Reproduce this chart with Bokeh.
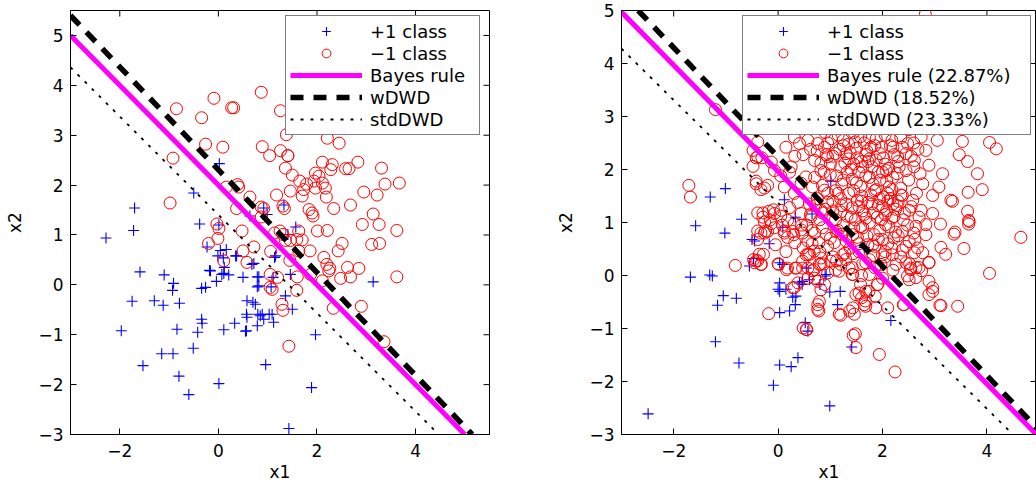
import math
from bokeh.plotting import figure
from bokeh.models import (ColumnDataSource, Legend, LegendItem,
                          FixedTicker, Range1d)
from bokeh.layouts import row
from bokeh.embed import file_html
from bokeh.resources import INLINE

FONT = "DejaVu Sans"

# ---------------- data: left panel ----------------
left_pos_x = [-2.28, -1.70, -1.72, -1.59, -1.97, -1.75, -1.53, -1.30, -1.12, -1.10,
              -0.91, -0.93, -0.79, -0.84, -1.15, -0.92, -0.80, -0.60, -0.51, -0.42,
              -0.34, -0.33, -0.34, -0.26, -0.38, -0.50, 0.01, 0.02, -0.23, -0.18,
              -0.04, -0.01, 0.04, 0.16, 0.12, 0.11, 0.21, 0.01, 0.11, 0.33,
              0.37, 0.50, 0.58, 0.57, 0.57, 0.58, 0.80, 0.75, 0.79, 0.79,
              0.79, 0.72, 0.96, 0.92, 0.89, 0.92, 1.03, 1.09, 1.12, 1.07,
              1.14, 1.33, 1.36, 1.50, 1.46, 1.41, 1.57, 1.43, 1.89, 1.97,
              3.14, 0.64, 0.99, -0.16, 0.07, 0.10, 0.35, 0.68, 1.16, 0.55,
              0.85, 0.70, 1.11, 0.82, 0.82]
left_pos_y = [0.94, 1.54, 1.09, 0.26, -0.92, -0.33, -1.62, -0.32, -0.41, 0.20,
              0.03, -0.11, -0.37, -0.89, -1.38, -1.38, -1.83, -2.20, -1.27, -0.95,
              -0.69, -0.77, -0.07, -0.05, 1.22, 1.84, -1.98, 2.43, 0.76, 0.29,
              0.07, 0.58, 0.69, 0.71, 0.35, 0.23, 0.20, 1.20, -0.90, -0.77,
              0.58, 0.15, -0.32, -0.59, -0.92, -0.65, -0.59, -0.39, -0.82, 0.16,
              -0.04, 0.43, -1.60, 1.54, -0.59, -0.69, -0.59, -0.59, -0.75, -0.04,
              0.55, 1.60, -0.22, -0.49, 0.21, 1.01, 1.16, -2.88, -2.06, -1.00,
              0.06, 1.38, 1.41, 0.28, 0.21, 0.54, 0.58, 0.41, 0.58, -0.93,
              -0.62, -0.35, 0.15, 0.16, -0.02]

left_neg_x = [-0.09, -0.85, -0.34, 0.27, 0.31, 0.87, 1.26, 1.38, -0.26, 0.09,
              -0.92, -0.98, 0.89, 1.04, 1.26, 1.41, 1.36, 1.50, 2.21, 2.45,
              2.11, 2.31, 2.28, 2.58, 2.65, 2.83, 3.31, 3.38, 3.67, 2.95,
              3.22, 1.97, 2.04, 1.94, 1.79, 1.65, 1.73, 1.70, 1.97, 2.17,
              2.11, 2.19, 1.46, 1.18, 0.39, 0.41, 0.16, 0.64, 0.37, 0.87,
              0.92, 0.87, 1.31, 1.34, 1.84, 1.90, 1.92, 2.34, 2.68, 3.14,
              2.92, 3.26, 3.62, 3.11, 3.27, 2.51, 2.43, 2.01, 2.21, 1.86,
              1.70, 1.63, 1.59, 1.46, 1.31, 1.36, 1.25, 1.14, 1.63, 1.45,
              1.06, 1.05, 1.20, 1.05, 1.09, 1.59, 1.60, 1.87, 2.11, 2.14,
              2.20, 2.26, 2.24, 2.48, 2.62, 2.68, 2.85, 3.62, 2.90, 2.33,
              1.29, 1.31, 1.43, 3.36, 0.48, 0.72, 0.50, 0.58, 0.11, -0.01,
              -0.03, 0.01, -0.20, 1.41]
left_neg_y = [3.74, 3.53, 3.35, 3.55, 3.55, 3.86, 3.49, 3.01, 2.82, 2.76,
              2.54, 1.64, 2.77, 2.59, 2.69, 2.59, 2.34, 2.20, 2.94, 2.84,
              2.46, 2.41, 2.31, 2.33, 2.33, 2.46, 2.34, 2.02, 2.04, 1.86,
              1.80, 2.24, 2.18, 2.08, 2.02, 2.08, 1.91, 1.78, 1.94, 1.94,
              2.04, 1.76, 1.88, 1.80, 2.01, 1.96, 1.96, 1.76, 1.53, 1.56,
              1.53, 1.36, 1.58, 1.53, 1.51, 1.44, 1.38, 1.53, 1.60, 1.42,
              1.21, 1.21, 1.09, 0.81, 0.83, 0.83, 0.68, 1.08, 1.09, 0.68,
              0.90, 1.08, 0.91, 0.89, 1.01, 0.89, 1.08, 1.04, 0.68, 0.49,
              0.67, 0.21, 0.15, -0.05, -0.09, -0.11, 0.16, 0.21, 0.08, 0.55,
              0.41, 0.33, 0.28, 0.13, 0.35, 0.16, 0.33, 0.16, -0.43, -0.47,
              -0.39, -0.51, -1.23, -1.14, 1.08, 0.76, 0.68, 0.45, 0.48, 0.93,
              1.22, 1.13, 0.83, 2.59]

left_bayes_x = [-3.0, 5.0]
left_bayes_y = [5.0, -3.0]
left_wdwd_x = [-3.0, 5.15]
left_wdwd_y = [5.40, -3.0]
left_std_x = [-3.0, 4.47]
left_std_y = [4.36, -3.0]

# ---------------- data: right panel ----------------
right_pos_x = [-2.49, -1.68, -1.31, -1.26, -1.30, -1.01, -1.58, -1.02, -0.70, -1.05,
               -1.16, -0.80, -1.20, -0.75, -0.55, -0.47, -0.50, -0.45, -0.17, 0.12,
               0.09, 0.03, 0.09, 0.03, 0.00, 0.03, 0.15, 0.03, 0.22, 0.28,
               0.34, 0.33, 0.41, 0.46, 0.54, 0.60, 0.52, 0.57, 0.38, 0.03,
               0.25, -0.09, 0.99, 1.01, 0.65, 0.92, 0.99, 1.19, 1.14, 0.80,
               1.41, 1.65, 2.16, 0.33, 0.47, 0.90]
right_pos_y = [-2.61, -0.03, 0.01, -0.01, 1.48, 1.64, 0.94, 0.80, 1.06, -0.38,
               -0.56, -0.43, -1.25, -1.65, 0.18, 0.32, 0.68, 0.65, 0.60, 1.43,
               0.91, 0.24, 0.21, -0.14, -0.26, -0.30, -0.26, -0.70, -0.67, -0.41,
               -0.39, -0.55, -0.14, -0.17, 0.14, -0.08, -0.89, -1.05, -1.55, -1.69,
               -1.72, -2.07, -2.46, 1.78, 1.16, 0.02, -0.31, -0.30, -0.55, -0.17,
               -1.35, 0.53, -0.85, 1.10, -0.11, -0.01]

right_neg_x = [
    2.82, -1.20, -1.71, -1.68, -0.82, -0.18, 4.65, 4.05, 4.18, 4.05,
    3.82, 3.91, 3.64, 3.53, 3.63, 3.47, 3.34, 3.63, 3.66, 3.39,
    3.56, 3.21, 3.12, 3.44, 3.10, 2.89, 2.96, 2.89, 2.75, 2.64,
    2.54, 2.40, 2.10, 1.94, 2.24, 1.48, 1.44, 1.49, 0.54, 0.48,
    0.78, 0.76, 1.17, 1.46, 1.65, 1.68, 1.49, 1.86, 1.91, 1.75,
    1.43, 1.36, 1.20, 1.01, 0.82, 0.76, 0.89, 0.69, 0.47, 0.33,
    0.28, 0.18, 0.01, -0.33, -0.36, -0.42, -0.47, -0.28, -0.39, -0.33,
    -0.24, -0.42, -0.33, -0.26, -0.48, -0.42, -0.31, -0.39, -0.29, -0.18,
    -0.09, 0.08, 0.12, 0.30, 0.47, 0.48, 0.57, 0.47,
    3.15, 3.08, 3.31, 3.65, 2.83, 2.74, 3.05, 2.61, 2.48, 2.45,
    2.89, 2.77, 2.96, 2.74, 2.96, 2.29, 2.20, 2.07, 2.13, 2.38,
    2.51, 2.22,
    3.37, 3.65, 3.11, 2.83, 2.89, 2.70, 2.54, 2.51, 2.89, 2.96,
    3.12, 2.41, 1.20, 1.43, 1.37, 1.68, 1.87, 1.55, 1.60, 1.67,
    1.74, 1.90, 1.58, 1.42, 1.17, 1.24, 1.43, 1.68, 1.97, 2.00,
    2.19, 2.26, 2.45, 2.48, 2.64, 2.61, 2.67, 2.77, 2.51, 2.22,
    2.00, 1.81, 1.84, 2.38, 2.64, 2.83, 2.06, 1.62, 1.43, 1.11,
    -0.39, -0.48, -0.39, -0.13, -0.07, -0.42, -0.20, 0.12, 0.31, 0.44,
    0.53, 0.25, 0.41, 0.31, 0.57, 0.76, 0.89, 0.95, 0.70, 0.82,
    0.66, 0.89, 0.82, 0.63, 0.44, -0.26, -0.13, 0.18, 0.31, -0.29,
    -0.07, 0.06,
    -0.39, -0.26, -0.20, -0.07, 0.12, 0.28, 0.44, 0.57, 0.54, 0.69,
    0.82, 0.79, -0.39, -0.45, -0.32, 0.00, 0.16, 0.35, 0.57, 0.38,
    0.31, 0.82, 0.79, 0.76, 0.55, 0.57, 0.66,
    1.00, 1.30, 1.60, 1.90, 2.20, 2.50, 0.90, 1.15, 1.45, 1.75,
    2.05, 2.35, 2.60,
    0.75, 0.95, 1.10, 1.25, 1.35, 1.50, 1.60, 1.70, 1.80, 1.95,
    2.05, 2.15, 2.30, 2.45, 2.60, 1.20, 1.40, 1.55, 1.00, 1.65,
    1.85, 2.00, 1.30, 1.45, 1.75,
    0.70, 0.85, 1.00, 1.10, 1.25, 1.35, 1.50, 1.60, 1.75, 1.85,
    1.95, 2.10, 2.20, 2.35, 2.50, 2.65, 2.10, 2.15, 2.20, 1.45,
    0.95, 1.20,
    0.60, 0.75, 0.90, 1.05, 1.20, 1.30, 1.40, 1.55, 1.65, 1.80,
    1.90, 2.00, 2.05, 2.25, 2.40, 2.55, 2.70, 1.75, 1.95, 1.60,
    2.30, 1.10, 0.80,
    0.55, 0.70, 0.85, 1.00, 1.15, 1.30, 1.45, 1.55, 1.70, 1.85,
    1.95, 2.10, 2.30, 2.45, 2.60, 1.25, 0.95, 0.65,
    0.60, 0.80, 1.05, 1.30, 1.55, 1.75, 1.85, 2.05, 2.20, 2.35,
    1.10, 0.70, 0.95, 1.60, 2.00]
right_neg_y = [
    4.93, 3.13, 1.70, 1.48, 0.19, -0.72, 0.72, 0.04, 2.39, 2.51,
    1.92, 1.62, 1.57, 2.53, 2.15, 2.28, 1.40, 1.21, 1.02, 0.82,
    0.51, 0.40, 0.53, -0.58, -0.56, -0.36, -0.23, 0.25, 0.09, -0.04,
    0.14, -0.55, -0.61, -1.49, -1.82, -1.10, -1.13, -1.36, -1.02, -0.99,
    -0.67, -0.55, -0.73, -0.73, -0.55, -0.30, -0.36, -0.39, -0.17, 0.02,
    0.02, 0.14, 0.21, 0.27, 0.21, -0.11, -0.17, 0.11, 0.14, 0.14,
    -0.23, 0.14, 0.21, 0.21, 0.40, 0.28, 0.30, 0.40, 0.84, 0.80,
    0.84, 1.78, 1.62, 1.65, 2.06, 2.22, 2.22, 1.18, 1.18, 1.21,
    1.24, 0.95, 0.84, 0.77, 0.80, 0.52, 0.40, 0.27,
    1.92, 1.67, 1.42, 1.04, 2.36, 2.61, 2.55, 2.17, 2.49, 1.98,
    2.08, 1.73, 1.51, 1.23, 1.17, 2.24, 2.42, 1.98, 1.67, 1.51,
    1.23, 1.11,
    0.78, 0.97, 0.97, 0.77, 0.24, 0.15, 0.11, -0.08, -0.11, -0.30,
    -0.57, -0.55, -0.75, -0.61, -0.67, -0.58, -0.61, -0.33, -0.42, -0.48,
    -0.30, -0.17, -0.17, 0.02, 0.08, 0.39, 0.41, 0.24, 0.21, 0.39,
    0.39, 0.21, 0.24, -0.01, 0.15, 0.43, 0.52, 0.43, 0.64, 0.71,
    0.68, 0.58, 0.77, 0.83, 0.93, 0.96, 0.96, 0.90, 0.77, 0.83,
    2.52, 2.36, 2.24, 2.14, 1.98, 1.73, 1.70, 1.67, 1.55, 1.74,
    1.86, 2.05, 2.49, 2.61, 2.55, 2.49, 2.42, 2.24, 2.17, 1.98,
    1.67, 1.61, 1.23, 1.11, 1.17, 1.01, 0.98, 1.04, 0.98, 1.10,
    1.17, 1.23,
    0.68, 0.80, 0.83, 0.90, 0.80, 0.83, 0.86, 0.65, 0.39, 0.46,
    0.33, 0.21, 0.28, 0.24, 0.21, 0.22, 0.11, 0.14, 0.14, -0.14,
    -0.23, -0.27, -0.49, -0.64, -1.02, -0.05, 0.09,
    2.90, 2.95, 2.85, 2.90, 2.80, 2.75, 2.70, 2.65, 2.70, 2.60,
    2.65, 2.60, 2.50,
    2.35, 2.50, 2.30, 2.45, 2.20, 2.40, 2.15, 2.35, 2.05, 2.30,
    2.10, 2.45, 2.15, 2.30, 2.05, 2.05, 2.00, 1.95, 2.10, 2.50,
    2.45, 1.95, 2.30, 2.10, 2.20,
    1.85, 1.70, 1.90, 1.60, 1.80, 1.55, 1.75, 1.50, 1.85, 1.60,
    1.80, 1.55, 1.85, 1.65, 1.80, 1.55, 1.40, 1.45, 1.35, 1.60,
    1.55, 1.45,
    1.35, 1.45, 1.25, 1.40, 1.20, 1.35, 1.10, 1.30, 1.15, 1.35,
    1.10, 1.30, 1.15, 1.25, 1.05, 1.30, 1.10, 1.00, 1.45, 1.40,
    1.40, 1.05, 1.05,
    0.95, 0.80, 0.90, 0.70, 0.85, 0.65, 0.90, 0.60, 0.75, 0.55,
    0.85, 0.60, 0.75, 0.55, 0.80, 0.95, 0.55, 0.60,
    0.40, 0.45, 0.35, 0.30, 0.45, 0.30, 0.15, 0.45, 0.10, 0.35,
    0.10, -0.05, 0.05, 0.00, -0.05]

# dense core of the -1 class in the right panel
right_core_x = [
    1.05, 1.18, 1.28, 1.38, 1.48, 1.52, 1.62, 1.68, 1.78, 1.88,
    1.92, 2.02, 2.12, 2.22, 1.12, 1.22, 1.32, 1.42, 1.58, 1.68,
    1.82, 2.08, 2.18, 2.28, 2.38, 1.02, 1.25, 1.58, 1.88, 2.18,
    0.92, 0.82, 0.88, 1.35, 1.72, 1.98, 2.32, 2.55, 2.68, 2.72,
    1.62, 1.72, 1.82, 1.92, 2.02, 2.08, 2.18, 2.28, 2.35, 1.52,
    1.42, 1.48, 1.58, 1.68, 1.78, 1.88, 1.98, 2.12, 2.25, 2.42,
    2.48, 2.58, 2.62, 1.32, 1.22, 1.15, 1.05, 0.95, 0.85, 0.72,
    0.62, 0.65, 0.78, 0.92, 1.08, 1.22, 1.38, 1.52, 1.72, 1.92,
    2.05, 2.18, 2.38, 2.52, 1.82, 1.62, 1.42, 1.28, 1.12, 0.88,
    -0.15, 0.05, 0.22, 0.38, 0.18, 0.32, 0.45, -0.05, 0.15, 0.05,
    0.22, 0.32, 0.15, 0.48, 0.62]
right_core_y = [
    2.25, 2.38, 2.12, 2.32, 2.52, 2.22, 2.05, 2.28, 2.42, 2.18,
    1.95, 2.22, 2.02, 2.28, 1.88, 1.72, 1.95, 1.82, 1.68, 1.88,
    1.72, 1.78, 1.62, 1.92, 2.42, 2.58, 2.55, 2.62, 2.58, 2.55,
    2.28, 2.12, 1.95, 2.48, 2.15, 2.42, 2.05, 2.25, 2.38, 1.92,
    1.22, 1.38, 1.18, 1.32, 1.48, 1.22, 1.08, 1.32, 1.52, 1.42,
    1.28, 1.05, 0.92, 1.08, 1.52, 1.62, 1.05, 0.92, 0.82, 1.18,
    0.95, 1.42, 0.68, 1.12, 1.32, 1.55, 1.22, 1.38, 1.18, 1.32,
    1.15, 0.85, 0.62, 0.78, 0.62, 0.78, 0.52, 0.72, 0.58, 0.68,
    0.35, 0.52, 0.48, 0.22, 0.38, 0.22, 0.15, 0.42, 0.28, 0.22,
    1.05, 1.12, 1.28, 1.38, 0.72, 0.62, 0.95, 0.58, 0.45, 1.88,
    1.95, 2.25, 2.42, 2.28, 2.38]

right_bayes_x = [-3.0, 4.95]
right_bayes_y = [4.97, -3.0]
right_wdwd_x = [-2.68, 5.0]
right_wdwd_y = [5.0, -2.92]
right_std_x = [-3.0, 4.50]
right_std_y = [4.28, -3.0]

x_ticks = [-2, 0, 2, 4]
x_tick_labels = ["\u22122", "0", "2", "4"]
y_ticks = [-3, -2, -1, 0, 1, 2, 3, 4, 5]
y_tick_labels = ["\u22123", "\u22122", "\u22121", "0", "1", "2", "3", "4", "5"]

left_labels = ["+1 class", "\u22121 class", "Bayes rule", "wDWD", "stdDWD"]
right_labels = ["+1 class", "\u22121 class", "Bayes rule (22.87%)",
                "wDWD (18.52%)", "stdDWD (23.33%)"]


def style_axis(ax, ticks, labels):
    ax.ticker = FixedTicker(ticks=ticks)
    ax.major_label_overrides = {t: l for t, l in zip(ticks, labels)}
    ax.major_tick_in = 6
    ax.major_tick_out = 0
    ax.minor_tick_line_color = None
    ax.major_tick_line_color = "black"
    ax.axis_line_color = "black"
    ax.major_label_text_font = FONT
    ax.major_label_text_color = "black"
    ax.major_label_text_font_size = "17px"
    ax.axis_label_text_font = FONT
    ax.axis_label_text_font_size = "17px"
    ax.axis_label_text_font_style = "normal"
    ax.axis_label_text_color = "black"


def make_panel(xr, yr, fw, mbl, mbr, px, py, nx, ny, lines, labels, legend_x,
               legend_label_width):
    p = figure(x_range=Range1d(*xr), y_range=Range1d(*yr),
               frame_width=fw, frame_height=424,
               min_border_left=mbl, min_border_right=mbr,
               min_border_top=10, min_border_bottom=46,
               output_backend="svg", toolbar_location=None,
               background_fill_color="white", border_fill_color="white")
    p.xgrid.visible = False
    p.ygrid.visible = False
    p.outline_line_color = "black"
    p.outline_line_width = 1

    style_axis(p.xaxis[0], x_ticks, x_tick_labels)
    p.xaxis[0].axis_label = "x1"
    p.xaxis[0].major_label_standoff = 9
    p.xaxis[0].axis_label_standoff = 2
    style_axis(p.yaxis[0], y_ticks, y_tick_labels)
    p.yaxis[0].axis_label = "x2"
    p.yaxis[0].major_label_standoff = 7
    p.yaxis[0].axis_label_standoff = 10

    # mirrored inward ticks on the top and right frame edges
    p.scatter(x_ticks, [yr[1]] * len(x_ticks), marker="dash", angle=math.pi / 2,
              size=12, line_color="black", line_width=1)
    p.scatter([xr[1]] * len(y_ticks), y_ticks, marker="dash",
              size=12, line_color="black", line_width=1)

    s_pos = ColumnDataSource(dict(x=px, y=py))
    s_neg = ColumnDataSource(dict(x=nx, y=ny))
    r_pos = p.scatter("x", "y", source=s_pos, marker="cross", size=11,
                      line_color="#0000FF", line_width=1.1)
    r_neg = p.scatter("x", "y", source=s_neg, marker="circle", size=12,
                      line_color="#FF0000", fill_color=None, line_width=1)
    (bx, by), (wx, wy), (sx, sy) = lines
    r_bayes = p.line(bx, by, line_color="#FF00FF", line_width=5)
    r_wdwd = p.line(wx, wy, line_color="black", line_width=5.5,
                    line_dash="13 10")
    r_std = p.line(sx, sy, line_color="black", line_width=1.8,
                   line_dash="3 7")

    renderers = [r_pos, r_neg, r_bayes, r_wdwd, r_std]
    legend = Legend(items=[LegendItem(label=l, renderers=[r])
                           for l, r in zip(labels, renderers)],
                    location=(legend_x, 299))
    legend.glyph_width = 72
    legend.glyph_height = 22
    legend.label_height = 22
    legend.label_width = legend_label_width
    legend.label_standoff = 8
    legend.padding = 4
    legend.spacing = 0
    legend.margin = 0
    legend.border_line_color = "black"
    legend.border_line_width = 1
    legend.background_fill_color = "white"
    legend.background_fill_alpha = 1
    legend.label_text_font = FONT
    legend.label_text_font_size = "18px"
    legend.label_text_color = "black"
    p.add_layout(legend)
    return p


p1 = make_panel((-3, 5.5), (-3, 5.5), 419, 70, 62,
                left_pos_x, left_pos_y, left_neg_x, left_neg_y,
                [(left_bayes_x, left_bayes_y), (left_wdwd_x, left_wdwd_y),
                 (left_std_x, left_std_y)],
                left_labels, 215, 105)
p2 = make_panel((-3, 4.95), (-3, 5), 415, 70, 0,
                right_pos_x, right_pos_y,
                right_neg_x + right_core_x, right_neg_y + right_core_y,
                [(right_bayes_x, right_bayes_y), (right_wdwd_x, right_wdwd_y),
                 (right_std_x, right_std_y)],
                right_labels, 121, 199)

layout = row(p1, p2)
open("out.html", "w").write(file_html(layout, INLINE))
